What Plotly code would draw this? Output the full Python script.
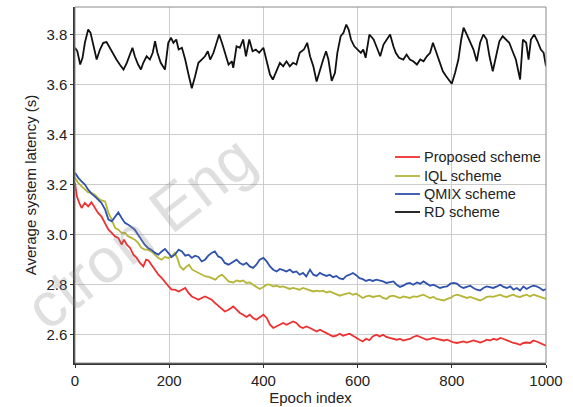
import plotly.graph_objects as go

# ---------------- data ----------------
rd_epochs = [0, 5, 11, 16, 21, 28, 33, 39, 46, 53, 60, 67, 74, 81, 88, 95, 103, 110, 117, 122,
             127, 134, 140, 145, 152, 159, 165, 170, 175, 182, 191, 198, 204, 209, 215, 220, 227, 234, 241, 248,
             255, 262, 269, 276, 282, 287, 294, 301, 306, 312, 319, 326, 333, 336, 343, 350, 357, 363, 370, 377,
             384, 391, 400, 407, 414, 420, 427, 435, 442, 449, 456, 463, 470, 477, 486, 493, 499, 506, 513, 520,
             527, 533, 538, 545, 552, 557, 564, 570, 576, 581, 586, 593, 600, 607, 612, 617, 625, 634, 641, 648,
             655, 662, 669, 676, 681, 688, 697, 704, 711, 718, 726, 733, 740, 747, 754, 760, 767, 774, 781, 788,
             795, 800, 807, 814, 820, 825, 832, 839, 846, 853, 860, 867, 874, 880, 887, 894, 901, 908, 915, 922,
             929, 936, 945, 951, 958, 963, 968, 975, 982, 989, 995, 1000]
rd_latency = [3.747, 3.733, 3.680, 3.707, 3.767, 3.820, 3.807, 3.753, 3.700, 3.740, 3.767, 3.770, 3.747, 3.720, 3.700, 3.680, 3.660, 3.687, 3.720, 3.747,
              3.713, 3.680, 3.660, 3.687, 3.713, 3.700, 3.727, 3.773, 3.727, 3.687, 3.660, 3.767, 3.787, 3.767, 3.780, 3.740, 3.747, 3.700, 3.640, 3.585,
              3.633, 3.687, 3.700, 3.713, 3.733, 3.700, 3.727, 3.773, 3.800, 3.767, 3.727, 3.680, 3.693, 3.667, 3.753, 3.747, 3.780, 3.713, 3.780, 3.733,
              3.740, 3.727, 3.747, 3.687, 3.640, 3.620, 3.653, 3.687, 3.673, 3.693, 3.673, 3.687, 3.680, 3.727, 3.740, 3.767, 3.713, 3.673, 3.612, 3.660,
              3.700, 3.733, 3.700, 3.615, 3.647, 3.727, 3.793, 3.807, 3.840, 3.820, 3.780, 3.753, 3.740, 3.727, 3.740, 3.707, 3.800, 3.780, 3.747, 3.713,
              3.760, 3.780, 3.800, 3.753, 3.727, 3.707, 3.700, 3.720, 3.700, 3.693, 3.680, 3.700, 3.693, 3.713, 3.727, 3.767, 3.727, 3.687, 3.653, 3.633,
              3.615, 3.603, 3.647, 3.700, 3.780, 3.827, 3.800, 3.773, 3.740, 3.693, 3.767, 3.800, 3.780, 3.713, 3.653, 3.713, 3.773, 3.793, 3.780, 3.767,
              3.733, 3.700, 3.620, 3.780, 3.767, 3.700, 3.780, 3.800, 3.773, 3.740, 3.727, 3.673]

qmix_epochs = [0, 7, 14, 21, 28, 35, 42, 49, 56, 64, 71, 78, 85, 92, 99, 106, 113, 120, 127, 134,
               141, 148, 155, 162, 170, 177, 184, 191, 198, 205, 212, 220, 227, 234, 241, 248, 255, 262, 269, 276,
               283, 290, 297, 304, 311, 318, 326, 336, 343, 350, 357, 364, 371, 378, 385, 392, 400, 407, 414, 421,
               428, 435, 442, 449, 456, 463, 470, 477, 484, 491, 499, 506, 513, 520, 527, 534, 541, 548, 555, 562,
               569, 576, 583, 590, 597, 604, 611, 618, 625, 632, 640, 647, 654, 661, 668, 676, 683, 690, 697, 704,
               711, 718, 726, 733, 740, 747, 754, 761, 768, 775, 783, 790, 797, 804, 811, 818, 825, 832, 839, 846,
               853, 860, 867, 874, 881, 888, 896, 903, 910, 917, 924, 931, 938, 945, 952, 959, 966, 973, 980, 987,
               994, 1000]
qmix_latency = [3.247, 3.227, 3.213, 3.200, 3.180, 3.164, 3.153, 3.140, 3.127, 3.100, 3.060, 3.053, 3.073, 3.089, 3.067, 3.047, 3.040, 3.031, 3.020, 3.000,
                2.980, 2.960, 2.947, 2.940, 2.927, 2.920, 2.933, 2.943, 2.927, 2.911, 2.920, 2.940, 2.933, 2.916, 2.920, 2.907, 2.916, 2.911, 2.893, 2.900,
                2.916, 2.927, 2.933, 2.913, 2.907, 2.887, 2.880, 2.893, 2.900, 2.887, 2.880, 2.887, 2.873, 2.867, 2.880, 2.900, 2.907, 2.893, 2.873, 2.860,
                2.853, 2.863, 2.857, 2.853, 2.860, 2.849, 2.853, 2.840, 2.847, 2.833, 2.860, 2.840, 2.835, 2.847, 2.840, 2.835, 2.840, 2.830, 2.835, 2.825,
                2.822, 2.835, 2.840, 2.847, 2.838, 2.826, 2.822, 2.815, 2.820, 2.815, 2.820, 2.817, 2.813, 2.807, 2.809, 2.813, 2.800, 2.791, 2.796, 2.804,
                2.807, 2.800, 2.809, 2.804, 2.813, 2.804, 2.796, 2.800, 2.793, 2.787, 2.791, 2.793, 2.804, 2.807, 2.804, 2.793, 2.787, 2.791, 2.796, 2.787,
                2.780, 2.777, 2.787, 2.793, 2.791, 2.787, 2.793, 2.800, 2.791, 2.787, 2.793, 2.780, 2.787, 2.777, 2.793, 2.783, 2.791, 2.796, 2.793, 2.787,
                2.777, 2.783]

iql_epochs = [0, 7, 14, 21, 28, 35, 42, 49, 56, 64, 71, 78, 85, 92, 99, 106, 113, 120, 127, 134,
              141, 148, 155, 162, 170, 177, 184, 191, 198, 205, 212, 217, 223, 230, 237, 242, 249, 256, 263, 270,
              277, 284, 291, 298, 305, 312, 319, 326, 336, 343, 350, 357, 364, 371, 378, 385, 392, 400, 407, 414,
              421, 428, 435, 442, 449, 456, 463, 470, 477, 484, 491, 499, 506, 513, 520, 527, 534, 541, 548, 555,
              562, 569, 576, 583, 590, 597, 604, 611, 618, 625, 632, 640, 647, 654, 661, 668, 676, 683, 690, 697,
              704, 711, 718, 726, 733, 740, 747, 754, 761, 768, 775, 783, 790, 797, 804, 811, 818, 825, 832, 839,
              846, 853, 860, 867, 874, 881, 888, 896, 903, 910, 917, 924, 931, 938, 945, 952, 959, 966, 973, 980,
              987, 994, 1000]
iql_latency = [3.227, 3.207, 3.193, 3.180, 3.169, 3.167, 3.160, 3.147, 3.137, 3.133, 3.087, 3.060, 3.027, 3.020, 3.007, 3.007, 2.993, 2.987, 2.980, 2.967,
               2.947, 2.940, 2.940, 2.933, 2.920, 2.907, 2.900, 2.911, 2.907, 2.913, 2.927, 2.907, 2.873, 2.860, 2.873, 2.880, 2.860, 2.853, 2.847, 2.840,
               2.833, 2.831, 2.827, 2.820, 2.833, 2.840, 2.827, 2.813, 2.809, 2.817, 2.813, 2.817, 2.807, 2.809, 2.800, 2.793, 2.783, 2.791, 2.800, 2.800,
               2.793, 2.796, 2.791, 2.793, 2.787, 2.783, 2.787, 2.783, 2.780, 2.787, 2.783, 2.780, 2.773, 2.776, 2.773, 2.776, 2.769, 2.773, 2.767, 2.764,
               2.756, 2.760, 2.764, 2.767, 2.760, 2.764, 2.756, 2.747, 2.753, 2.756, 2.751, 2.753, 2.756, 2.747, 2.743, 2.753, 2.756, 2.751, 2.747, 2.753,
               2.751, 2.747, 2.753, 2.751, 2.756, 2.760, 2.753, 2.747, 2.751, 2.743, 2.740, 2.737, 2.743, 2.747, 2.756, 2.760, 2.756, 2.751, 2.747, 2.751,
               2.747, 2.740, 2.737, 2.743, 2.751, 2.753, 2.751, 2.756, 2.760, 2.753, 2.751, 2.756, 2.760, 2.753, 2.751, 2.756, 2.760, 2.753, 2.760, 2.756,
               2.751, 2.747, 2.743]

prop_epochs = [0, 4, 9, 14, 21, 28, 35, 42, 49, 56, 64, 71, 78, 85, 92, 99, 104, 110, 117, 124,
               131, 138, 145, 151, 156, 162, 170, 177, 184, 191, 198, 205, 212, 220, 227, 234, 241, 248, 255, 262,
               269, 276, 283, 290, 297, 304, 311, 318, 326, 336, 343, 350, 357, 364, 371, 378, 385, 392, 400, 407,
               414, 421, 428, 435, 442, 449, 456, 463, 470, 477, 484, 491, 499, 506, 513, 520, 527, 534, 541, 548,
               555, 562, 569, 576, 583, 590, 597, 604, 611, 618, 625, 632, 640, 647, 654, 661, 668, 676, 683, 690,
               697, 704, 711, 718, 726, 733, 740, 747, 754, 761, 768, 775, 783, 790, 797, 804, 811, 818, 825, 832,
               839, 846, 853, 860, 867, 874, 881, 888, 896, 903, 910, 917, 924, 931, 938, 945, 952, 959, 966, 973,
               980, 987, 994, 1000]
prop_latency = [3.207, 3.153, 3.127, 3.107, 3.127, 3.113, 3.129, 3.107, 3.087, 3.073, 3.047, 3.020, 3.007, 2.993, 2.987, 2.960, 2.980, 2.960, 2.947, 2.920,
                2.907, 2.887, 2.873, 2.900, 2.897, 2.880, 2.860, 2.840, 2.827, 2.813, 2.795, 2.780, 2.780, 2.773, 2.780, 2.787, 2.767, 2.753, 2.747, 2.740,
                2.747, 2.753, 2.747, 2.740, 2.727, 2.716, 2.707, 2.693, 2.700, 2.713, 2.700, 2.687, 2.680, 2.671, 2.680, 2.667, 2.660, 2.671, 2.680, 2.667,
                2.640, 2.627, 2.633, 2.640, 2.647, 2.640, 2.647, 2.653, 2.647, 2.633, 2.627, 2.633, 2.627, 2.620, 2.613, 2.620, 2.613, 2.607, 2.600, 2.593,
                2.596, 2.604, 2.596, 2.600, 2.604, 2.596, 2.587, 2.580, 2.573, 2.584, 2.578, 2.593, 2.600, 2.593, 2.600, 2.591, 2.587, 2.583, 2.580, 2.583,
                2.577, 2.580, 2.583, 2.591, 2.596, 2.591, 2.587, 2.580, 2.583, 2.587, 2.583, 2.580, 2.577, 2.580, 2.573, 2.569, 2.567, 2.569, 2.573, 2.569,
                2.573, 2.577, 2.573, 2.569, 2.573, 2.580, 2.577, 2.583, 2.580, 2.587, 2.583, 2.577, 2.573, 2.567, 2.564, 2.560, 2.567, 2.569, 2.567, 2.577,
                2.573, 2.567, 2.560, 2.556]

series_names = ["Proposed scheme", "IQL scheme", "QMIX scheme", "RD scheme"]
x_ticks = [0, 200, 400, 600, 800, 1000]
y_ticks = [2.6, 2.8, 3.0, 3.2, 3.4, 3.6, 3.8]

# ---------------- figure ----------------
FONT = "Liberation Sans, Arial, sans-serif"
colors = ["#ee3030", "#b5b536", "#2f52ad", "#111111"]
data = [(prop_epochs, prop_latency), (iql_epochs, iql_latency),
        (qmix_epochs, qmix_latency), (rd_epochs, rd_latency)]

W, H = 573, 407
ML, MR, MT, MB = 75, 27, 7, 44
PW, PH = W - ML - MR, H - MT - MB


def px_x(px):
    return (px - ML) / PW


def px_y(py):
    return (H - MB - py) / PH


fig = go.Figure()
for name, col, (xs, ys) in zip(series_names, colors, data):
    fig.add_trace(go.Scatter(x=xs, y=ys, mode="lines", name=name, showlegend=False,
                             line=dict(color=col, width=1.8)))

fig.update_layout(
    width=W, height=H,
    margin=dict(l=ML, r=MR, t=MT, b=MB, autoexpand=False),
    paper_bgcolor="white", plot_bgcolor="white",
    font=dict(family=FONT, size=15, color="#222222"),
    showlegend=False,
    xaxis=dict(range=[0, 1000], tickvals=x_ticks, ticktext=[str(v) for v in x_ticks],
               showgrid=True, gridcolor="#cccccc", gridwidth=1,
               showline=True, linecolor="#333333", linewidth=1.5,
               ticks="outside", ticklen=3, tickcolor="#333333",
               zeroline=False, automargin=False,
               title=dict(text="Epoch index", font=dict(size=15), standoff=2)),
    yaxis=dict(range=[2.487, 3.91], tickvals=y_ticks, ticktext=["%.1f" % v for v in y_ticks],
               showgrid=True, gridcolor="#cccccc", gridwidth=1,
               showline=True, linecolor="#333333", linewidth=1.5,
               ticks="outside", ticklen=3, tickcolor="#333333",
               zeroline=False, automargin=False,
               title=dict(text="Average system latency (s)", font=dict(size=15), standoff=6)),
)

# light frame on top and right
fig.add_shape(type="rect", xref="paper", yref="paper", x0=0, y0=0, x1=1, y1=1,
              line=dict(color="#8a8a8a", width=1), layer="above")

# legend box (drawn by hand to match the entry spacing)
fig.add_shape(type="rect", xref="paper", yref="paper",
              x0=px_x(377), x1=px_x(545), y0=px_y(226), y1=px_y(140),
              fillcolor="white", line=dict(width=0), layer="between")
legend_rows = [157, 176, 194, 212]
for name, col, row in zip(series_names, colors, legend_rows):
    fig.add_shape(type="line", xref="paper", yref="paper",
                  x0=px_x(395), x1=px_x(420), y0=px_y(row), y1=px_y(row),
                  line=dict(color=col, width=1.8), layer="above")
    fig.add_annotation(text=name, xref="paper", yref="paper",
                       x=px_x(422), y=px_y(row), xanchor="left", yanchor="middle",
                       showarrow=False, font=dict(family=FONT, size=14.5, color="#222222"))

# faint watermark
fig.add_annotation(text="ctron Eng", xref="paper", yref="paper",
                   x=px_x(140), y=px_y(232), xanchor="center", yanchor="middle",
                   showarrow=False, textangle=-38,
                   font=dict(family=FONT, size=63, color="rgba(140,140,140,0.28)"))

fig.write_html("out.html", config={"displayModeBar": False},
               post_script="document.body.style.margin='0';")
